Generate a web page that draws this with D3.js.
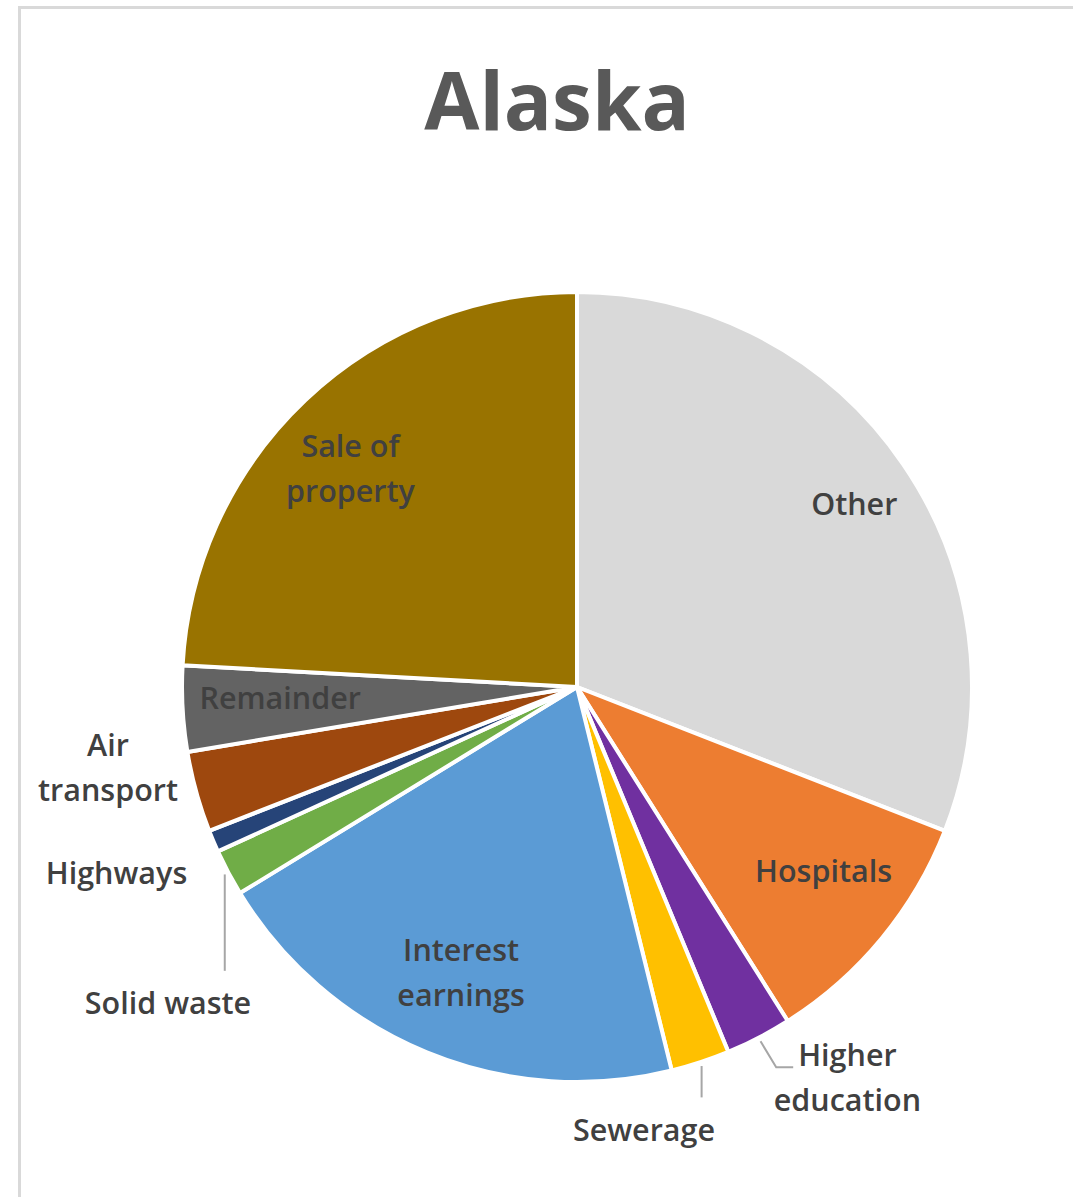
<!DOCTYPE html>
<html>
<head>
<meta charset="utf-8">
<script src="https://cdn.jsdelivr.net/npm/d3@7"></script>
<style>
  html, body { margin: 0; padding: 0; background: #fff; }
  svg { display: block; }
</style>
</head>
<body>
<svg id="chart" width="1073" height="1197"></svg>
<script>
// ---- data ----
const title = "Alaska";
const categories = ["Other", "Hospitals", "Higher education", "Sewerage", "Interest earnings",
                    "Solid waste", "Highways", "Air transport", "Remainder", "Sale of property"];
const values = [30.9, 10.1, 2.7, 2.4, 20.1, 1.9, 0.9, 3.3, 3.5, 24.1];
const colors = ["#d9d9d9", "#ed7d31", "#7030a0", "#ffc000", "#5b9bd5",
                "#70ad47", "#264478", "#9e480e", "#636363", "#997300"];
// label text lines
const labelLines = [["Other"], ["Hospitals"], ["Higher", "education"], ["Sewerage"], ["Interest", "earnings"],
                    ["Solid waste"], ["Highways"], ["Air", "transport"], ["Remainder"], ["Sale of", "property"]];
// label placement: angle offset from slice mid (deg), radius factor, leader type
const labelLayout = [
  {dA: 1.0, rf: 0.84, leader: null},
  {dA: -2.7, rf: 0.78, leader: null},
  {dA: -7.3, rf: 1.203, leader: "elbow"},
  {dA: 9.6, rf: 1.134, leader: "vertical"},
  {dA: -0.3, rf: 0.782, leader: null},
  {dA: -9.7, rf: 1.309, leader: "vertical"},
  {dA: 0.9, rf: 1.258, leader: null},
  {dA: 5.6, rf: 1.205, leader: null},
  {dA: 1.0, rf: 0.752, leader: null},
  {dA: -2.6, rf: 0.797, leader: null}
];

// ---- layout ----
const W = 1073, H = 1197;
const cx = 577, cy = 687, R = 395;
const fontFamily = "'Open Sans', 'Noto Sans', sans-serif";
const lineH = 45;
const fontSize = 30.5;

const svg = d3.select("#chart");

// frame
svg.append("rect")
  .attr("x", 19.5).attr("y", 7.5)
  .attr("width", W + 20).attr("height", H + 20)
  .attr("fill", "#fff")
  .attr("stroke", "#d9d9d9").attr("stroke-width", 3);

// title
svg.append("text")
  .attr("x", 557).attr("y", 130)
  .attr("text-anchor", "middle")
  .attr("font-family", fontFamily)
  .attr("font-weight", 700)
  .attr("font-size", 80)
  .attr("fill", "#595959")
  .text(title);

const data = categories.map((c, i) => ({cat: c, value: values[i], color: colors[i], lines: labelLines[i], layout: labelLayout[i]}));

const pie = d3.pie().value(d => d.value).sort(null).startAngle(0).endAngle(2 * Math.PI);
const arcs = pie(data);
const arc = d3.arc().innerRadius(0).outerRadius(R);

const g = svg.append("g").attr("transform", `translate(${cx},${cy})`);

g.selectAll("path.slice")
  .data(arcs)
  .enter().append("path")
  .attr("class", "slice")
  .attr("d", arc)
  .attr("fill", d => d.data.color)
  .attr("stroke", "#fff")
  .attr("stroke-width", 4)
  .attr("stroke-linejoin", "miter");

const polar = (ang, r) => [r * Math.sin(ang), -r * Math.cos(ang)];

arcs.forEach(a => {
  const mid = (a.startAngle + a.endAngle) / 2;
  const L = a.data.layout;
  const ang = mid + L.dA * Math.PI / 180;
  const [lx, ly] = polar(ang, R * L.rf);
  const n = a.data.lines.length;
  const top = ly - (n * lineH) / 2;
  const t = g.append("text")
    .attr("text-anchor", "middle")
    .attr("font-family", fontFamily)
    .attr("font-weight", 600)
    .attr("font-size", fontSize)
    .attr("fill", "#404040");
  a.data.lines.forEach((ln, i) => {
    t.append("tspan")
      .attr("x", lx)
      .attr("y", top + lineH * i + lineH / 2)
      .attr("dy", "0.35em")
      .text(ln);
  });

  if (L.leader) {
    const [sx, sy] = polar(mid, R + 4);
    let pts;
    if (L.leader === "vertical") {
      pts = [[sx, sy], [sx, top - 10]];
    } else {
      const firstW = t.select("tspan").node().getComputedTextLength();
      const ex = lx - firstW / 2 - 5;
      const ey = top + lineH / 2 + 12;
      pts = [[sx, sy], [ex - 17, ey], [ex, ey]];
    }
    g.append("path")
      .attr("d", d3.line()(pts))
      .attr("fill", "none")
      .attr("stroke", "#a6a6a6")
      .attr("stroke-width", 2);
  }
});
</script>
</body>
</html>
